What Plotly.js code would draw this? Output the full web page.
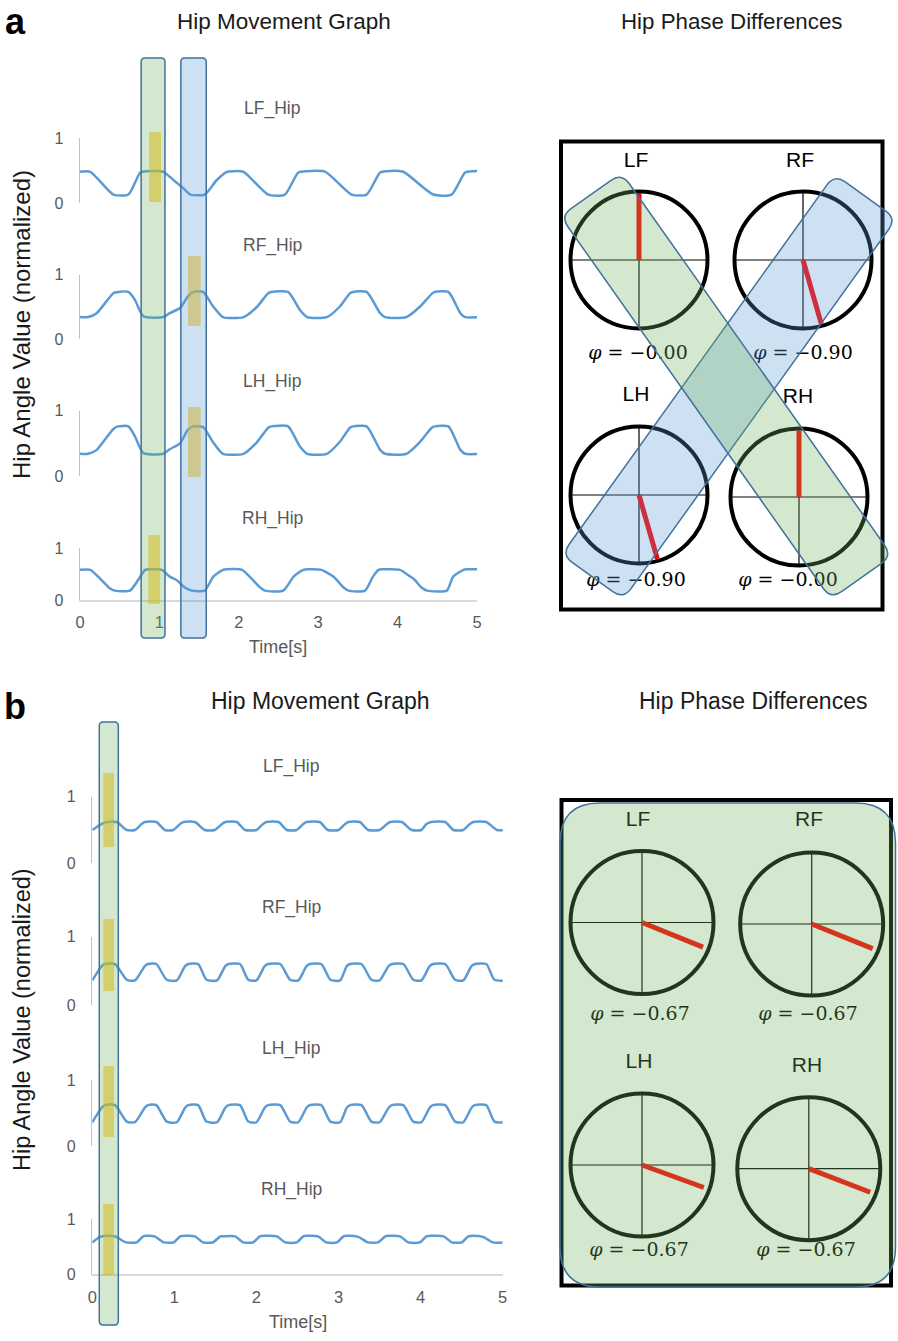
<!DOCTYPE html>
<html><head><meta charset="utf-8">
<script src="https://cdn.plot.ly/plotly-3.0.1.min.js"></script>
<style>html,body{margin:0;padding:0;background:#fff}</style>
</head><body><div id="chart" style="width:898px;height:1341px"></div>
<script>
// ---------------- DATA ----------------
const legs = ['LF', 'RF', 'LH', 'RH'];
const hipLabels = ['LF_Hip', 'RF_Hip', 'LH_Hip', 'RH_Hip'];
const xTicks = [0, 1, 2, 3, 4, 5];
const yTicks = [0, 1];

// panel a : hip angle traces (time [s], normalized value)
const aLF_t = [0, 0.13, 0.42, 0.61, 0.76, 0.84, 1.05, 1.18, 1.28, 1.39, 1.57, 1.72, 1.85, 1.93, 2.06, 2.37, 2.58, 2.75, 2.86, 3.09, 3.42, 3.61, 3.78, 3.86, 4.07, 4.45, 4.68, 4.85, 4.95, 5.07];
const aLF_v = [0.48, 0.48, 0.13, 0.13, 0.47, 0.49, 0.48, 0.35, 0.25, 0.13, 0.13, 0.35, 0.48, 0.49, 0.48, 0.13, 0.13, 0.47, 0.49, 0.48, 0.13, 0.13, 0.47, 0.49, 0.48, 0.13, 0.13, 0.47, 0.49, 0.49];
const aRF_t = [0, 0.105, 0.21, 0.42, 0.48, 0.61, 0.69, 0.80, 1.05, 1.13, 1.26, 1.36, 1.43, 1.55, 1.68, 1.80, 2.06, 2.23, 2.37, 2.41, 2.62, 2.77, 2.86, 3.11, 3.27, 3.40, 3.44, 3.61, 3.78, 3.84, 4.11, 4.28, 4.43, 4.47, 4.64, 4.79, 4.85, 5.07];
const aRF_v = [0.34, 0.34, 0.40, 0.71, 0.73, 0.73, 0.61, 0.35, 0.34, 0.40, 0.48, 0.66, 0.73, 0.73, 0.50, 0.34, 0.34, 0.50, 0.71, 0.73, 0.73, 0.45, 0.34, 0.34, 0.50, 0.71, 0.73, 0.73, 0.40, 0.34, 0.34, 0.50, 0.70, 0.73, 0.73, 0.40, 0.34, 0.34];
const aLH_t = [0, 0.105, 0.21, 0.42, 0.48, 0.61, 0.69, 0.80, 1.05, 1.13, 1.26, 1.36, 1.43, 1.55, 1.68, 1.80, 2.06, 2.23, 2.37, 2.41, 2.62, 2.77, 2.86, 3.11, 3.27, 3.40, 3.44, 3.61, 3.78, 3.84, 4.11, 4.28, 4.43, 4.47, 4.64, 4.79, 4.85, 5.07];
const aLH_v = [0.34, 0.34, 0.40, 0.72, 0.76, 0.76, 0.61, 0.35, 0.34, 0.41, 0.50, 0.71, 0.76, 0.75, 0.51, 0.34, 0.34, 0.52, 0.74, 0.76, 0.76, 0.45, 0.34, 0.34, 0.52, 0.74, 0.76, 0.76, 0.40, 0.34, 0.34, 0.52, 0.74, 0.76, 0.76, 0.40, 0.34, 0.34];
const aRH_t = [0, 0.13, 0.38, 0.44, 0.63, 0.76, 0.82, 0.88, 1.03, 1.13, 1.22, 1.32, 1.41, 1.57, 1.68, 1.80, 1.85, 2.04, 2.18, 2.27, 2.33, 2.56, 2.69, 2.81, 2.88, 3.04, 3.19, 3.32, 3.38, 3.59, 3.69, 3.76, 3.80, 4.03, 4.16, 4.22, 4.30, 4.37, 4.62, 4.70, 4.83, 4.87, 5.0];
const aRH_v = [0.58, 0.58, 0.22, 0.18, 0.18, 0.45, 0.58, 0.59, 0.58, 0.45, 0.38, 0.24, 0.18, 0.18, 0.45, 0.58, 0.59, 0.58, 0.38, 0.24, 0.18, 0.18, 0.45, 0.58, 0.59, 0.58, 0.45, 0.24, 0.18, 0.18, 0.45, 0.58, 0.59, 0.58, 0.45, 0.38, 0.24, 0.18, 0.18, 0.45, 0.58, 0.59, 0.59];

// panel b : hip angle traces
const bLF_t = [0, 0.114, 0.175, 0.297, 0.419, 0.52, 0.60, 0.64, 0.78, 0.885, 0.987, 1.07, 1.11, 1.25, 1.37, 1.49, 1.58, 1.62, 1.76, 1.86, 2.00, 2.08, 2.12, 2.27, 2.37, 2.49, 2.57, 2.61, 2.77, 2.87, 3.00, 3.08, 3.12, 3.26, 3.36, 3.50, 3.59, 3.63, 3.77, 3.89, 4.01, 4.07, 4.13, 4.30, 4.40, 4.52, 4.60, 4.64, 4.80, 4.93, 5.05];
const bLF_v = [0.50, 0.59, 0.62, 0.62, 0.50, 0.50, 0.59, 0.62, 0.62, 0.50, 0.50, 0.59, 0.62, 0.62, 0.50, 0.50, 0.59, 0.62, 0.62, 0.50, 0.50, 0.59, 0.62, 0.62, 0.50, 0.50, 0.59, 0.62, 0.62, 0.50, 0.50, 0.59, 0.62, 0.62, 0.50, 0.50, 0.59, 0.62, 0.62, 0.50, 0.50, 0.59, 0.62, 0.62, 0.50, 0.50, 0.59, 0.62, 0.62, 0.50, 0.50];
const bRF_t = [0, 0.114, 0.155, 0.277, 0.419, 0.52, 0.64, 0.68, 0.78, 0.906, 1.03, 1.13, 1.17, 1.29, 1.39, 1.52, 1.62, 1.66, 1.80, 1.90, 2.00, 2.10, 2.14, 2.29, 2.41, 2.51, 2.61, 2.65, 2.79, 2.90, 3.02, 3.10, 3.14, 3.28, 3.40, 3.50, 3.61, 3.65, 3.79, 3.91, 4.01, 4.11, 4.15, 4.30, 4.42, 4.52, 4.62, 4.66, 4.80, 4.90, 5.07];
const bRF_v = [0.36, 0.57, 0.60, 0.60, 0.37, 0.36, 0.57, 0.60, 0.60, 0.37, 0.36, 0.57, 0.60, 0.60, 0.37, 0.36, 0.57, 0.60, 0.60, 0.37, 0.36, 0.57, 0.60, 0.60, 0.37, 0.36, 0.57, 0.60, 0.60, 0.37, 0.36, 0.57, 0.60, 0.60, 0.37, 0.36, 0.57, 0.60, 0.60, 0.37, 0.36, 0.57, 0.60, 0.60, 0.37, 0.36, 0.57, 0.60, 0.60, 0.37, 0.36];
const bLH_t = [0, 0.114, 0.155, 0.277, 0.419, 0.52, 0.64, 0.68, 0.78, 0.906, 1.03, 1.13, 1.17, 1.29, 1.39, 1.52, 1.62, 1.66, 1.80, 1.90, 2.00, 2.10, 2.14, 2.29, 2.41, 2.51, 2.61, 2.65, 2.79, 2.90, 3.02, 3.10, 3.14, 3.28, 3.40, 3.50, 3.61, 3.65, 3.79, 3.91, 4.01, 4.11, 4.15, 4.30, 4.42, 4.52, 4.62, 4.66, 4.80, 4.90, 5.07];
const bLH_v = [0.36, 0.58, 0.62, 0.62, 0.37, 0.36, 0.58, 0.62, 0.62, 0.37, 0.36, 0.58, 0.62, 0.62, 0.37, 0.36, 0.58, 0.62, 0.62, 0.37, 0.36, 0.58, 0.62, 0.62, 0.37, 0.36, 0.58, 0.62, 0.62, 0.37, 0.36, 0.58, 0.62, 0.62, 0.37, 0.36, 0.58, 0.62, 0.62, 0.37, 0.36, 0.58, 0.62, 0.62, 0.37, 0.36, 0.58, 0.62, 0.62, 0.37, 0.36];
const bRH_t = [0, 0.094, 0.175, 0.277, 0.41, 0.54, 0.62, 0.66, 0.76, 0.87, 0.99, 1.07, 1.13, 1.25, 1.35, 1.47, 1.56, 1.60, 1.74, 1.84, 1.96, 2.04, 2.10, 2.25, 2.35, 2.49, 2.57, 2.61, 2.75, 2.85, 2.98, 3.06, 3.10, 3.24, 3.36, 3.48, 3.57, 3.61, 3.75, 3.85, 3.99, 4.07, 4.13, 4.28, 4.38, 4.50, 4.58, 4.64, 4.76, 4.88, 5.0];
const bRH_v = [0.58, 0.68, 0.70, 0.69, 0.58, 0.58, 0.69, 0.70, 0.69, 0.58, 0.58, 0.69, 0.70, 0.69, 0.58, 0.58, 0.69, 0.69, 0.69, 0.58, 0.58, 0.69, 0.70, 0.69, 0.58, 0.58, 0.69, 0.70, 0.69, 0.58, 0.58, 0.69, 0.70, 0.68, 0.58, 0.58, 0.69, 0.70, 0.69, 0.58, 0.58, 0.69, 0.70, 0.69, 0.58, 0.58, 0.69, 0.70, 0.68, 0.58, 0.58];

// highlighted time windows [s]
const aGreenWin = [0.77, 1.07];
const aBlueWin = [1.27, 1.59];
const bGreenWin = [0.085, 0.317];
const aYellowWin = [[0.87, 1.02], [1.36, 1.52], [1.36, 1.52], [0.86, 1.01]];
const bYellowWin = [[0.134, 0.264], [0.134, 0.264], [0.134, 0.264], [0.134, 0.264]];

// phase differences and clock-hand angles (deg, clockwise from 12 o'clock)
const aPhase = [-0.00, -0.90, -0.90, -0.00];
const aHandDeg = [0, 164, 164, 0];
const bPhase = [-0.67, -0.67, -0.67, -0.67];
const bHandDeg = [112, 112, 110, 111];

// ---------------- LAYOUT / STYLE ----------------
const W = 898, H = 1341;
const FONT = '"Liberation Sans", Arial, sans-serif';
const SERIF = '"DejaVu Serif", serif';
const GREY = '#595959';
const px = v => v / W, py = v => 1 - v / H;
const GREEN_FILL = 'rgba(112,178,96,0.3)';
const BLUE_FILL = 'rgba(91,155,213,0.3)';
const YELLOW_FILL = 'rgba(255,192,0,0.55)';
const EDGE = '#41719c';

const traces = [];
const waveLine = {color: '#5b9bd5', width: 2.5, shape: 'spline', smoothing: 0.6};
const aSeries = [[aLF_t, aLF_v], [aRF_t, aRF_v], [aLH_t, aLH_v], [aRH_t, aRH_v]];
const bSeries = [[bLF_t, bLF_v], [bRF_t, bRF_v], [bLH_t, bLH_v], [bRH_t, bRH_v]];
aSeries.forEach((s, i) => traces.push({type: 'scatter', mode: 'lines', x: s[0], y: s[1],
  xaxis: 'x', yaxis: i === 0 ? 'y' : 'y' + (i + 1), line: waveLine, hoverinfo: 'skip'}));
bSeries.forEach((s, i) => traces.push({type: 'scatter', mode: 'lines', x: s[0], y: s[1],
  xaxis: 'x2', yaxis: 'y' + (i + 5), line: waveLine, hoverinfo: 'skip'}));

const layout = {
  width: W, height: H, margin: {l: 0, r: 0, t: 0, b: 0},
  paper_bgcolor: '#fff', plot_bgcolor: 'rgba(0,0,0,0)', showlegend: false,
  font: {family: FONT}, shapes: [], annotations: []
};

// pixel rows of each stacked subplot: [value 0, value 1]
const aRows = [[203, 138], [339, 274.5], [476, 410.7], [600, 548]];
const bRows = [[863.3, 796.7], [1005, 936.7], [1146, 1080], [1274.3, 1219.3]];
function yAx(r, anchor) {
  return {domain: [py(r[0]), py(r[1])], range: [0, 1], anchor, tickvals: yTicks, ticks: '',
    showgrid: false, zeroline: false, showline: true, linecolor: '#c0c0c0', linewidth: 1.5,
    tickfont: {family: FONT, size: 16, color: GREY}, ticklabelstandoff: 12, fixedrange: true};
}
function xAx(x0, x1, anchor) {
  return {domain: [px(x0), px(x1)], range: [0, 5], anchor, tickvals: xTicks, ticks: '',
    showgrid: false, zeroline: false, showline: true, linecolor: '#d9d9d9', linewidth: 1.5,
    tickfont: {family: FONT, size: 16.5, color: GREY}, ticklabelstandoff: 7, fixedrange: true};
}
layout.xaxis = xAx(80, 477, 'y4');
layout.xaxis2 = xAx(92.3, 502.7, 'y8');
aRows.forEach((r, i) => { layout[i === 0 ? 'yaxis' : 'yaxis' + (i + 1)] = yAx(r, 'x'); });
bRows.forEach((r, i) => { layout['yaxis' + (i + 5)] = yAx(r, 'x2'); });
// full-figure overlay axes (pixel units) for the phase diagrams
layout.xaxis3 = {domain: [0, 1], range: [0, W], anchor: 'y9', visible: false, fixedrange: true};
layout.yaxis9 = {domain: [0, 1], range: [H, 0], anchor: 'x3', visible: false, fixedrange: true};

// ---------- text annotations ----------
function ann(text, x, y, size, color, extra) {
  layout.annotations.push(Object.assign({text, x: px(x), y: py(y), xref: 'paper', yref: 'paper',
    xanchor: 'center', yanchor: 'middle', showarrow: false,
    font: {family: FONT, size, color}}, extra || {}));
}
ann('<b>a</b>', 15, 21, 36, '#000');
ann('<b>b</b>', 15, 706, 36, '#000');
ann('Hip Movement Graph', 284, 21, 22.5, '#1a1a1a');
ann('Hip Phase Differences', 731.5, 21, 22.3, '#1a1a1a');
ann('Hip Movement Graph', 320, 701, 23, '#1a1a1a');
ann('Hip Phase Differences', 752.5, 701, 23, '#1a1a1a');
ann('Hip Angle Value (normalized)', 22, 325, 24, '#1a1a1a', {textangle: -90});
ann('Hip Angle Value (normalized)', 22, 1020, 23.5, '#1a1a1a', {textangle: -90});
ann('Time[s]', 278, 647, 18, GREY);
ann('Time[s]', 298, 1322, 18, GREY);
const aLabelY = [108, 245, 381, 518];
const bLabelY = [766, 907, 1048, 1189];
hipLabels.forEach((t, i) => { ann(t, 272, aLabelY[i], 17.5, GREY); ann(t, 291, bLabelY[i], 17.5, GREY); });

// ---------- phase diagrams ----------
const diagA = {cx: [639, 803, 639, 799], cy: [260, 260, 495, 497], r: 68.5,
  nameX: [636, 800, 636, 798], nameY: [162, 162, 396, 398],
  phiX: [638, 803, 636, 788], phiY: [354, 354, 581, 581], handK: 0.97,
  box: [561, 141.5, 882.5, 609.5], phase: aPhase, hand: aHandDeg};
const diagB = {cx: [642, 811.7, 642, 808.8], cy: [922.5, 924, 1165, 1168.7], r: 71.5,
  nameX: [638, 809, 639, 807], nameY: [821, 821, 1063, 1067],
  phiX: [640, 808, 639, 806], phiY: [1015, 1015, 1251, 1251], handK: 0.92,
  box: [561.5, 800, 891, 1285.5], phase: bPhase, hand: bHandDeg};
const OV = {xref: 'x3', yref: 'y9'};
const fmtPhi = v => '<i>φ</i> = ' + ((v < 0 || Object.is(v, -0)) ? '−' : '') + Math.abs(v).toFixed(2);

function drawDiagram(d) {
  layout.shapes.push(Object.assign({type: 'rect', x0: d.box[0], y0: d.box[1], x1: d.box[2], y1: d.box[3],
    line: {color: '#000', width: 4}, fillcolor: 'rgba(0,0,0,0)', layer: 'below'}, OV));
  legs.forEach((leg, i) => {
    const cx = d.cx[i], cy = d.cy[i], r = d.r;
    layout.shapes.push(Object.assign({type: 'line', x0: cx - r, x1: cx + r, y0: cy, y1: cy,
      line: {color: '#000', width: 1.2}, layer: 'below'}, OV));
    layout.shapes.push(Object.assign({type: 'line', x0: cx, x1: cx, y0: cy - r, y1: cy + r,
      line: {color: '#000', width: 1.2}, layer: 'below'}, OV));
    layout.shapes.push(Object.assign({type: 'circle', x0: cx - r, x1: cx + r, y0: cy - r, y1: cy + r,
      line: {color: '#000', width: 4}, fillcolor: 'rgba(0,0,0,0)', layer: 'below'}, OV));
    const th = d.hand[i] * Math.PI / 180, L = r * d.handK;
    traces.push({type: 'scatter', mode: 'lines', xaxis: 'x3', yaxis: 'y9',
      x: [cx, cx + L * Math.sin(th)], y: [cy, cy - L * Math.cos(th)],
      line: {color: '#ff0000', width: 5}, hoverinfo: 'skip'});
  });
  traces.push({type: 'scatter', mode: 'text', xaxis: 'x3', yaxis: 'y9', x: d.nameX, y: d.nameY,
    text: legs, textposition: 'middle center', textfont: {family: FONT, size: 21, color: '#000'}, hoverinfo: 'skip'});
  traces.push({type: 'scatter', mode: 'text', xaxis: 'x3', yaxis: 'y9', x: d.phiX, y: d.phiY,
    text: d.phase.map(fmtPhi), textposition: 'middle center', textfont: {family: SERIF, size: 19, color: '#000'}, hoverinfo: 'skip'});
}
drawDiagram(diagA);
drawDiagram(diagB);

// ---------- translucent highlight overlays (above everything) ----------
function rrPath(x0, x1, y0, y1, rx, ry) {
  return `M${x0 + rx},${y0} L${x1 - rx},${y0} Q${x1},${y0} ${x1},${y0 + ry} L${x1},${y1 - ry} Q${x1},${y1} ${x1 - rx},${y1} ` +
    `L${x0 + rx},${y1} Q${x0},${y1} ${x0},${y1 - ry} L${x0},${y0 + ry} Q${x0},${y0} ${x0 + rx},${y0} Z`;
}
// yellow windows: vertical pixel extents per subplot
const aYellowRows = [[132, 202], [256, 326], [407, 477], [535, 604]];
const bYellowRows = [[773, 847], [919, 991], [1066, 1137], [1204, 1275]];
aYellowWin.forEach((w, i) => layout.shapes.push({type: 'rect', xref: 'x', yref: 'paper', x0: w[0], x1: w[1],
  y0: py(aYellowRows[i][1]), y1: py(aYellowRows[i][0]), fillcolor: YELLOW_FILL, line: {width: 0}, layer: 'above'}));
bYellowWin.forEach((w, i) => layout.shapes.push({type: 'rect', xref: 'x2', yref: 'paper', x0: w[0], x1: w[1],
  y0: py(bYellowRows[i][1]), y1: py(bYellowRows[i][0]), fillcolor: YELLOW_FILL, line: {width: 0}, layer: 'above'}));

function bar(xref, win, yTop, yBot, pxPerUnit, fill) {
  layout.shapes.push({type: 'path', xref, yref: 'paper',
    path: rrPath(win[0], win[1], py(yBot), py(yTop), 4 / pxPerUnit, 4 / H),
    fillcolor: fill, line: {color: EDGE, width: 1.5}, layer: 'above'});
}
bar('x', aGreenWin, 58, 638, 79.4, GREEN_FILL);
bar('x', aBlueWin, 58, 638, 79.4, BLUE_FILL);
bar('x2', bGreenWin, 722, 1325, 82.1, GREEN_FILL);

function bandPath(S, E, w, r) {
  const dx = E[0] - S[0], dy = E[1] - S[1], Ln = Math.hypot(dx, dy);
  const u = [dx / Ln, dy / Ln], n = [-u[1], u[0]], h = w / 2;
  const P = (p, a, k) => [p[0] + a[0] * k, p[1] + a[1] * k];
  const P0 = P(S, n, h), P1 = P(E, n, h), P2 = P(E, n, -h), P3 = P(S, n, -h);
  const f = p => p[0].toFixed(1) + ',' + p[1].toFixed(1);
  return 'M' + f(P(P0, u, r)) + ' L' + f(P(P1, u, -r)) + ' Q' + f(P1) + ' ' + f(P(P1, n, -r)) +
    ' L' + f(P(P2, n, r)) + ' Q' + f(P2) + ' ' + f(P(P2, u, -r)) +
    ' L' + f(P(P3, u, r)) + ' Q' + f(P3) + ' ' + f(P(P3, n, r)) +
    ' L' + f(P(P0, n, -r)) + ' Q' + f(P0) + ' ' + f(P(P0, u, r)) + ' Z';
}
layout.shapes.push(Object.assign({type: 'path', path: bandPath([865.5, 196.5], [592.5, 577], 76, 13),
  fillcolor: BLUE_FILL, line: {color: EDGE, width: 1.5}, layer: 'above'}, OV));
layout.shapes.push(Object.assign({type: 'path', path: bandPath([591, 194.5], [861.5, 577.5], 75, 13),
  fillcolor: GREEN_FILL, line: {color: EDGE, width: 1.5}, layer: 'above'}, OV));
layout.shapes.push(Object.assign({type: 'path', path: rrPath(560, 895.5, 803, 1287, 40, 40),
  fillcolor: GREEN_FILL, line: {color: EDGE, width: 1.5}, layer: 'above'}, OV));

Plotly.newPlot('chart', traces, layout, {staticPlot: true, displayModeBar: false});
</script>
</body></html>
